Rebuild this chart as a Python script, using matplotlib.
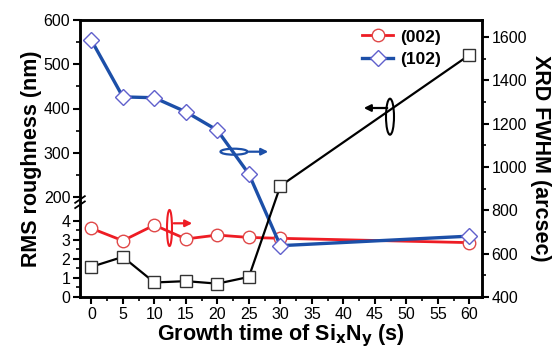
import numpy as np
import matplotlib
matplotlib.use("Agg")
import matplotlib.pyplot as plt
from matplotlib.patches import Ellipse, FancyArrowPatch
from matplotlib.ticker import FixedLocator, MultipleLocator

plt.rcParams['font.family'] = ['Liberation Sans', 'DejaVu Sans']

# ---- data ----
time_s = [0, 5, 10, 15, 20, 25, 30, 60]
rms_nm = [1.58, 2.1, 0.76, 0.83, 0.7, 1.05, 225, 521]
fwhm_002 = [717, 660, 732, 668, 686, 675, 671, 651]
fwhm_102 = [1586, 1324, 1320, 1255, 1170, 968, 637, 681]
x_ticks = [0, 5, 10, 15, 20, 25, 30, 35, 40, 45, 50, 55, 60]
left_ticks = [0, 1, 2, 3, 4, 200, 300, 400, 500, 600]
right_ticks = [400, 600, 800, 1000, 1200, 1400, 1600]

# broken-axis function scale (piecewise linear)
bx = np.array([0.0, 4.8, 200.0, 600.0])
by = np.array([0.0, 91.7, 100.0, 277.0])

def fwd(v):
    v = np.asarray(v, dtype=float)
    out = np.interp(v, bx, by)
    out = np.where(v < bx[0], by[0] + (v - bx[0]) * (by[1] - by[0]) / (bx[1] - bx[0]), out)
    out = np.where(v > bx[-1], by[-1] + (v - bx[-1]) * (by[-1] - by[-2]) / (bx[-1] - bx[-2]), out)
    return out

def inv(u):
    u = np.asarray(u, dtype=float)
    out = np.interp(u, by, bx)
    out = np.where(u < by[0], bx[0] + (u - by[0]) * (bx[1] - bx[0]) / (by[1] - by[0]), out)
    out = np.where(u > by[-1], bx[-1] + (u - by[-1]) * (bx[-1] - bx[-2]) / (by[-1] - by[-2]), out)
    return out

fig = plt.figure(figsize=(5.58, 3.53), dpi=100)
ax = fig.add_axes([80/558, 1-297/353, (482-80)/558, (297-20)/353])
ax2 = ax.twinx()

ax.set_yscale('function', functions=(fwd, inv))
ax.set_ylim(0, 600)
ax.set_xlim(-1.8, 62)
ax2.set_ylim(400, 1679)

# black RMS line
ax.plot(time_s, rms_nm, color='black', lw=1.6, marker='s', ms=8,
        mfc='white', mec='#333333', mew=1.0, zorder=3)

ax.patch.set_visible(False)
ax2.set_zorder(ax.get_zorder() - 1)
ax.set_zorder(ax2.get_zorder() + 1)

l1, = ax2.plot(time_s, fwhm_002, color='#ee1c24', lw=2.0, marker='o', ms=9,
               mfc='white', mec='#e04848', mew=1.0, label='(002)')
l2, = ax2.plot(time_s, fwhm_102, color='#1c4fa8', lw=2.4, marker='D', ms=8.5,
               mfc='white', mec='#6060cc', mew=1.0, label='(102)')

# ticks
ax.xaxis.set_major_locator(FixedLocator(x_ticks))
ax.xaxis.set_minor_locator(MultipleLocator(2.5))
ax.yaxis.set_major_locator(FixedLocator(left_ticks))
ax.yaxis.set_minor_locator(FixedLocator([0.5, 1.5, 2.5, 3.5, 250, 350, 450, 550]))
ax.set_yticklabels([str(t) for t in left_ticks])
ax2.yaxis.set_major_locator(FixedLocator(right_ticks))
ax2.yaxis.set_minor_locator(MultipleLocator(100))

for a in (ax, ax2):
    a.tick_params(which='major', direction='out', length=5, width=1.5, labelsize=11.5, pad=2)
    a.tick_params(which='minor', direction='out', length=3, width=1.2)
    for s in a.spines.values():
        s.set_linewidth(1.8)
ax.tick_params(axis='y', right=False)
ax2.tick_params(axis='y', left=False)
ax.tick_params(axis='x', top=False, which='both')

ax.set_xlabel('Growth time of Si$_\\mathbf{x}$N$_\\mathbf{y}$ (s)', fontsize=15.5, fontweight='bold', labelpad=0)
ax.set_ylabel('RMS roughness (nm)', fontsize=15.5, fontweight='bold', labelpad=1)
ax2.set_ylabel('XRD FWHM (arcsec)', fontsize=15.5, fontweight='bold', rotation=-90, labelpad=17)

# axis break marks
for yb in (0.352, 0.333):
    ax.plot([-0.012, 0.012], [yb - 0.012, yb + 0.012], transform=ax.transAxes,
            color='black', lw=1.3, clip_on=False, zorder=5)

def px(x, y):
    return (x / 558, 1 - y / 353)

# blue ellipse + arrow (pointing right)
fig.add_artist(Ellipse(px(234, 151.7), 27/558, 6/353, transform=fig.transFigure, fill=False,
                       ec='#1c4fa8', lw=1.6))
fig.add_artist(FancyArrowPatch(px(246, 151.7), px(271, 151.7),
               transform=fig.transFigure, arrowstyle='-|>', mutation_scale=10,
               color='#1c4fa8', lw=1.6))
# red ellipse + arrow
fig.add_artist(Ellipse(px(169.5, 228), 5/558, 36/353, transform=fig.transFigure, fill=False,
                       ec='#ee1c24', lw=1.5))
fig.add_artist(FancyArrowPatch(px(171, 223.3), px(195, 223.3),
               transform=fig.transFigure, arrowstyle='-|>', mutation_scale=10,
               color='#ee1c24', lw=1.6))
# black ellipse + arrow (pointing left)
fig.add_artist(Ellipse(px(390, 116.7), 8/558, 36/353, transform=fig.transFigure, fill=False,
                       ec='black', lw=1.5))
fig.add_artist(FancyArrowPatch(px(390, 108), px(361, 108),
               transform=fig.transFigure, arrowstyle='-|>', mutation_scale=10,
               color='black', lw=1.6))

leg = ax.legend(handles=[l1, l2], loc='upper left', frameon=False,
                prop={'weight': 'bold', 'size': 12.5}, handlelength=1.8,
                handletextpad=0.4, labelspacing=0.4, borderaxespad=0.3)
leg.set_bbox_to_anchor(((350-80)/402, 1.01), transform=ax.transAxes)

fig.savefig('out.png', dpi=100)
